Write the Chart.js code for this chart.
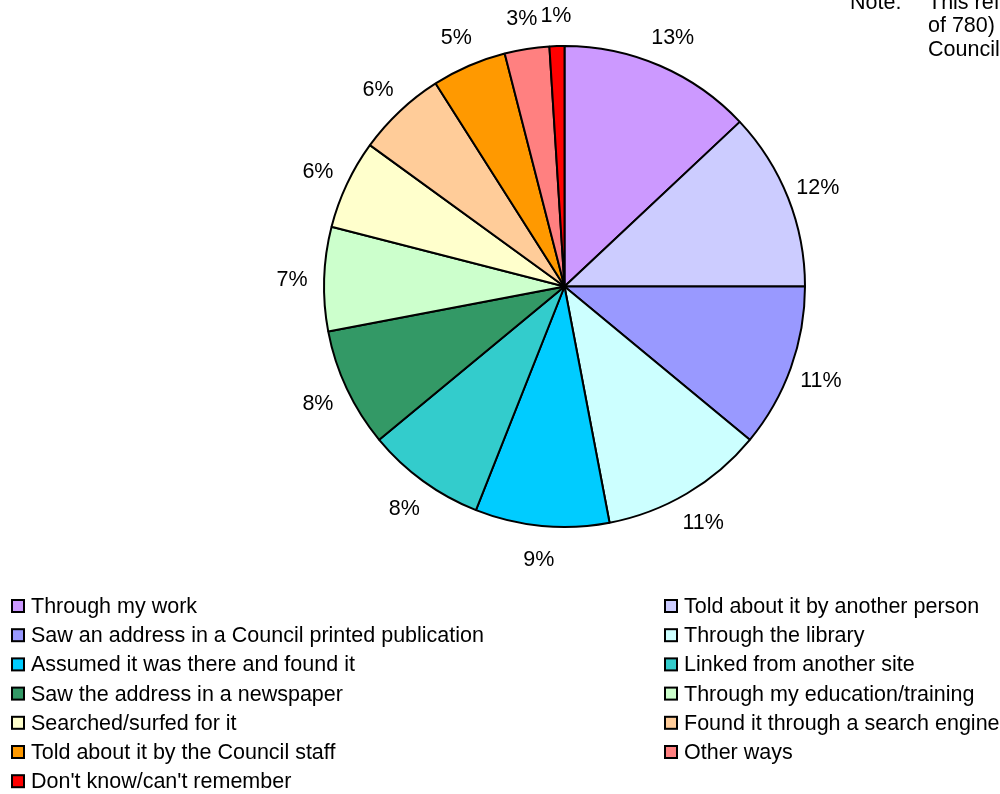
<!DOCTYPE html>
<html>
<head>
<meta charset="utf-8">
<script src="https://cdn.jsdelivr.net/npm/chart.js@4"></script>
<style>
  html, body { margin: 0; padding: 0; background: #ffffff; }
  #box { width: 1000px; height: 794px; position: relative; }
</style>
</head>
<body>
<div id="box"><canvas id="grafico"></canvas></div>
<script>
// categorias e valores (%)
const categorias = [
  'Through my work',
  'Told about it by another person',
  'Saw an address in a Council printed publication',
  'Through the library',
  'Assumed it was there and found it',
  'Linked from another site',
  'Saw the address in a newspaper',
  'Through my education/training',
  'Searched/surfed for it',
  'Found it through a search engine',
  'Told about it by the Council staff',
  'Other ways',
  "Don't know/can't remember"
];
const valores = [13, 12, 11, 11, 9, 8, 8, 7, 6, 6, 5, 3, 1];
const cores = [
  '#CC99FF', '#CCCCFF', '#9999FF', '#CCFFFF', '#00CCFF', '#33CCCC', '#339966',
  '#CCFFCC', '#FFFFCC', '#FFCC99', '#FF9900', '#FF8080', '#FF0000'
];
const nota = [
  'This refers to the respondents (n = 612',
  'of 780) who had visited the',
  "Council's website."
];

const fonte = '21.5px Arial, "Liberation Sans", sans-serif';

// rótulos de percentagem fora da pizza
const rotulos = {
  id: 'rotulos',
  afterDatasetsDraw(chart) {
    const ctx = chart.ctx;
    const meta = chart.getDatasetMeta(0);
    ctx.save();
    ctx.font = fonte;
    ctx.fillStyle = '#000';
    ctx.textAlign = 'center';
    ctx.textBaseline = 'middle';
    meta.data.forEach((arc, i) => {
      const a = (arc.startAngle + arc.endAngle) / 2;
      const r = arc.outerRadius + 32;
      ctx.fillText(valores[i] + '%', arc.x + Math.cos(a) * r, arc.y + Math.sin(a) * r + 2);
    });
    ctx.restore();
  }
};

// legenda em duas colunas + nota no canto
const legenda = {
  id: 'legenda',
  afterDraw(chart) {
    const ctx = chart.ctx;
    ctx.save();
    ctx.font = fonte;
    ctx.textBaseline = 'middle';
    categorias.forEach((nome, i) => {
      const col = i % 2;
      const lin = Math.floor(i / 2);
      const x = col === 0 ? 12 : 665;
      const y = 606 + lin * 29.2;
      ctx.fillStyle = cores[i];
      ctx.fillRect(x, y - 6, 12, 12);
      ctx.strokeStyle = '#000';
      ctx.lineWidth = 2;
      ctx.strokeRect(x, y - 6, 12, 12);
      ctx.fillStyle = '#000';
      ctx.fillText(nome, x + 19, y + 1);
    });

    ctx.fillText('Note:', 850, 3);
    nota.forEach((linha, i) => {
      ctx.fillText(linha, 928, 3 + i * 23.5);
    });
    ctx.restore();
  }
};

const ctx = document.getElementById('grafico').getContext('2d');
const grafico = new Chart(ctx, {
  type: 'pie',
  data: {
    labels: categorias,
    datasets: [{
      data: valores,
      backgroundColor: cores,
      borderColor: '#000000',
      borderWidth: 2
    }]
  },
  options: {
    responsive: true,
    maintainAspectRatio: false,
    animation: false,
    layout: {
      padding: { top: 45, bottom: 266, left: 323, right: 194 }
    },
    plugins: {
      legend: { display: false },
      tooltip: { enabled: false }
    }
  },
  plugins: [rotulos, legenda]
});
</script>
</body>
</html>
